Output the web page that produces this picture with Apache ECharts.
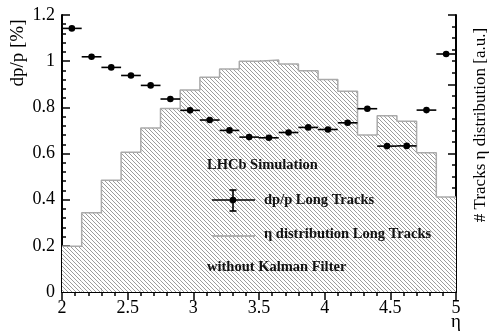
<!DOCTYPE html>
<html>
<head>
<meta charset="utf-8">
<script src="https://cdn.jsdelivr.net/npm/echarts@6/dist/echarts.min.js"></script>
<style>
html,body{margin:0;padding:0;background:#fff;}
#chart{width:493px;height:331px;}
</style>
</head>
<body>
<div id="chart"></div>
<script>
// ---- data ----
var etaCenters = [2.075, 2.225, 2.375, 2.525, 2.675, 2.825, 2.975, 3.125, 3.275, 3.425,
                  3.575, 3.725, 3.875, 4.025, 4.175, 4.325, 4.475, 4.625, 4.775, 4.925];
var binHalfWidth = 0.075;
var dppValues = [1.142, 1.019, 0.973, 0.938, 0.895, 0.836, 0.787, 0.745, 0.700, 0.671,
                 0.668, 0.691, 0.713, 0.704, 0.733, 0.794, 0.632, 0.633, 0.788, 1.031];
var etaDist = [0.198, 0.343, 0.484, 0.605, 0.711, 0.795, 0.875, 0.930, 0.966, 1.000,
               1.005, 0.988, 0.958, 0.921, 0.870, 0.680, 0.763, 0.740, 0.603, 0.412];
var xTickLabels = ['2', '2.5', '3', '3.5', '4', '4.5', '5'];
var yTickLabels = ['0', '0.2', '0.4', '0.6', '0.8', '1', '1.2'];

// ---- hatch pattern ----
var tile = document.createElement('canvas');
var S = 4;
tile.width = S; tile.height = S;
var tctx = tile.getContext('2d');
tctx.fillStyle = '#ffffff';
tctx.fillRect(0, 0, S, S);
tctx.fillStyle = '#9c9c9c';
for (var i = 0; i < S; i++) { tctx.fillRect(i, i, 1, 1); }
var hatch = { image: tile, repeat: 'repeat' };

var FONT = 'Liberation Serif';
var chart = echarts.init(document.getElementById('chart'), null, {renderer: 'canvas'});

var histData = etaCenters.map(function (c, i) { return [c, etaDist[i]]; });
var outline = etaCenters.map(function (c, i) { return [c - binHalfWidth, etaDist[i]]; });
outline.push([etaCenters[etaCenters.length - 1] + binHalfWidth, etaDist[etaDist.length - 1]]);
var pointData = etaCenters.map(function (c, i) { return [c, dppValues[i]]; });

var tickStyle = {show: true, inside: true, length: 8, lineStyle: {color: '#000', width: 1.5}};
var minorStyle = {show: true, splitNumber: 5, length: 4, lineStyle: {color: '#000', width: 1.5}};
var lineStyle = {show: true, lineStyle: {color: '#000', width: 2}};
var legendFont = {fontFamily: FONT, fontSize: 14.5, fontWeight: 'bold', fill: '#111', align: 'left', verticalAlign: 'middle'};

chart.setOption({
  animation: false,
  grid: {left: 62, right: 37, top: 15, bottom: 39, containLabel: false},
  xAxis: [{
    type: 'value', min: 2, max: 5, interval: 0.5, position: 'bottom',
    axisLine: lineStyle, axisTick: tickStyle, minorTick: minorStyle,
    splitLine: {show: false},
    axisLabel: {color: '#000', fontFamily: FONT, fontSize: 18, margin: 7,
      formatter: function (v) { return xTickLabels[Math.round((v - 2) / 0.5)]; }}
  }, {
    type: 'value', min: 2, max: 5, interval: 0.5, position: 'top',
    axisLine: lineStyle, axisTick: tickStyle, minorTick: minorStyle,
    splitLine: {show: false}, axisLabel: {show: false}
  }],
  yAxis: [{
    type: 'value', min: 0, max: 1.2, interval: 0.2, position: 'left',
    axisLine: lineStyle, axisTick: tickStyle, minorTick: minorStyle,
    splitLine: {show: false},
    axisLabel: {color: '#000', fontFamily: FONT, fontSize: 18, margin: 7,
      formatter: function (v) { return yTickLabels[Math.round(v / 0.2)]; }}
  }, {
    type: 'value', min: 0, max: 1.2, interval: 0.3, position: 'right',
    axisLine: lineStyle, axisTick: tickStyle,
    minorTick: {show: true, splitNumber: 6, length: 4, lineStyle: {color: '#000', width: 1.5}},
    splitLine: {show: false}, axisLabel: {show: false}
  }],
  series: [{
    type: 'custom', name: 'eta distribution', xAxisIndex: 0, yAxisIndex: 1, z: 1,
    data: histData,
    renderItem: function (params, api) {
      var c = api.value(0), v = api.value(1);
      var p0 = api.coord([c - binHalfWidth, 0]);
      var p1 = api.coord([c + binHalfWidth, v]);
      return {type: 'rect', shape: {x: p0[0], y: p1[1], width: p1[0] - p0[0], height: p0[1] - p1[1]},
              style: {fill: hatch, stroke: null}};
    }
  }, {
    type: 'line', name: 'eta outline', xAxisIndex: 0, yAxisIndex: 1, z: 2,
    data: outline, step: 'end', symbol: 'none',
    lineStyle: {color: '#aaaaaa', width: 1.5}
  }, {
    type: 'custom', name: 'dp/p', xAxisIndex: 0, yAxisIndex: 0, z: 5,
    data: pointData,
    renderItem: function (params, api) {
      var c = api.value(0), v = api.value(1);
      var l = api.coord([c - binHalfWidth, v]);
      var r = api.coord([c + binHalfWidth, v]);
      var m = api.coord([c, v]);
      return {type: 'group', children: [
        {type: 'line', shape: {x1: l[0], y1: l[1], x2: r[0], y2: r[1]}, style: {stroke: '#000', lineWidth: 1.6}},
        {type: 'circle', shape: {cx: m[0], cy: m[1], r: 3.3}, style: {fill: '#000'}}
      ]};
    }
  }],
  graphic: [
    {type: 'text', x: 18, y: 53, rotation: Math.PI / 2, z: 10,
     style: {text: 'dp/p [%]', fontFamily: FONT, fontSize: 19, fill: '#000', align: 'center', verticalAlign: 'middle'}},
    {type: 'text', x: 481, y: 125, rotation: Math.PI / 2, z: 10,
     style: {text: '# Tracks \u03b7 distribution [a.u.]', fontFamily: FONT, fontSize: 17, fill: '#000', align: 'center', verticalAlign: 'middle'}},
    {type: 'text', x: 456, y: 322, z: 10,
     style: {text: '\u03b7', fontFamily: FONT, fontSize: 19, fill: '#000', align: 'center', verticalAlign: 'middle'}},
    {type: 'text', x: 207, y: 165, z: 10, style: Object.assign({text: 'LHCb Simulation'}, legendFont)},
    {type: 'text', x: 264, y: 200, z: 10, style: Object.assign({text: 'dp/p Long Tracks'}, legendFont)},
    {type: 'text', x: 264, y: 234, z: 10, style: Object.assign({text: '\u03b7 distribution Long Tracks'}, legendFont)},
    {type: 'text', x: 207, y: 267, z: 10, style: Object.assign({text: 'without Kalman Filter'}, legendFont)},
    // legend markers
    {type: 'line', z: 10, shape: {x1: 212, y1: 200, x2: 255, y2: 200}, style: {stroke: '#000', lineWidth: 1.6}},
    {type: 'line', z: 10, shape: {x1: 233, y1: 190, x2: 233, y2: 211}, style: {stroke: '#000', lineWidth: 1.6}},
    {type: 'line', z: 10, shape: {x1: 229.5, y1: 190, x2: 236.5, y2: 190}, style: {stroke: '#000', lineWidth: 1.6}},
    {type: 'line', z: 10, shape: {x1: 229.5, y1: 211, x2: 236.5, y2: 211}, style: {stroke: '#000', lineWidth: 1.6}},
    {type: 'circle', z: 10, shape: {cx: 233, cy: 200, r: 3.3}, style: {fill: '#000'}},
    {type: 'line', z: 10, shape: {x1: 212, y1: 236, x2: 255, y2: 236}, style: {stroke: '#b0b0b0', lineWidth: 2}}
  ]
});
</script>
</body>
</html>
